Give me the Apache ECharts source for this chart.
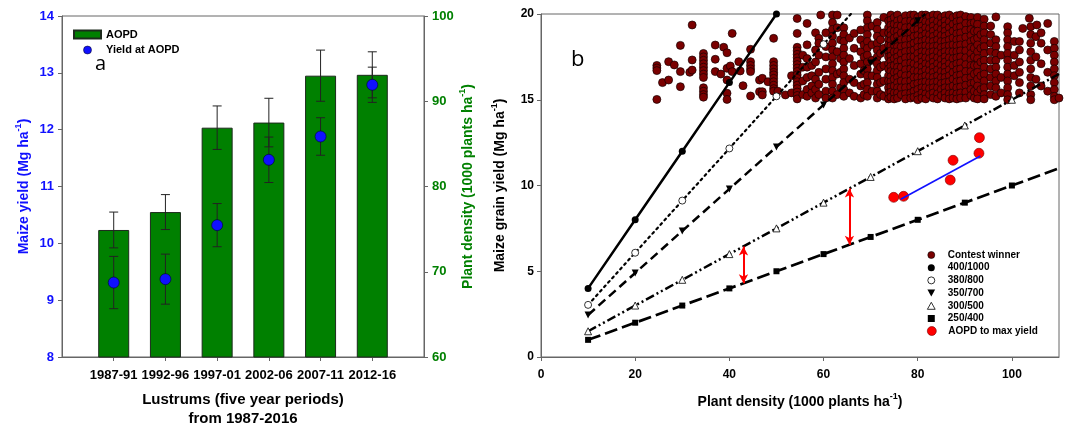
<!DOCTYPE html>
<html><head><meta charset="utf-8">
<script src="https://cdn.jsdelivr.net/npm/echarts@6/dist/echarts.min.js"></script>
<style>html,body{margin:0;padding:0;background:#fff}#c{width:1068px;height:424px}</style>
</head><body><div id="c"></div>
<script>
// ---------- Panel a data ----------
const lustrums = ['1987-91','1992-96','1997-01','2002-06','2007-11','2012-16'];
const aopd = [74.9, 77.0, 86.9, 87.5, 93.0, 93.1];          // plant density (1000 plants/ha)
const aopdSd = [2.1, 2.05, 2.55, 2.85, 3.0, 2.7];
const yieldAtAopd = [9.31, 9.37, 10.32, 11.47, 11.88, 12.79]; // Mg/ha
const yieldSd = [0.46, 0.44, 0.38, 0.40, 0.33, 0.31];
const yieldTicks = [8, 14, 1];
const densityTicks = [60, 100, 10];

// ---------- Panel b data ----------
const line400 = [[10,4],[20,8],[30,12],[40,16],[50,20]];
const line380 = [[10,3.04],[20,6.08],[30,9.12],[40,12.16],[50,15.2],[60,18.24]];
const line380End = [65.8,20];
const line350 = [[10,2.45],[20,4.9],[30,7.35],[40,9.8],[50,12.25],[60,14.7],[70,17.15],[80,19.6]];
const line350End = [81.6,20];
const line300 = [[10,1.5],[20,3],[30,4.5],[40,6],[50,7.5],[60,9],[70,10.5],[80,12],[90,13.5],[100,15]];
const line300End = [110,16.5];
const line250 = [[10,1],[20,2],[30,3],[40,4],[50,5],[60,6],[70,7],[80,8],[90,9],[100,10]];
const line250End = [110,11];
const aopdFit = [[76.4,9.2],[93.3,11.72]];
const gapArrows = [[43,6.45,4.3],[65.5,9.83,6.55]];
// contest winners: [plant density, [yields...]]
const contestWinner = [
[24.6,[17.0,16.85,16.7,15.02]],[25.8,[16.0]],[27.1,[17.22,16.15]],[28.3,[17.03]],
[29.6,[18.17,16.64,15.76]],[31.6,[16.6]],[32.1,[19.36,17.32,16.73]],
[34.5,[17.7,17.5,17.3,17.1,16.9,16.7,16.5,16.3,15.7,15.5,15.3,15.15]],
[37.0,[18.19,17.36,16.64]],[38.2,[16.5]],[38.8,[18.06]],[39.5,[17.74,16.83,16.15,15.38,15.02]],
[40.2,[16.97]],[40.6,[18.87,16.64]],[42.0,[17.22]],[42.3,[16.68]],[42.9,[15.82]],
[44.5,[17.94,17.22,17.0,16.8,16.64,15.22]],[46.4,[16.15,15.47]],[47.0,[16.25,15.47,15.28]],
[48.2,[16.05]],[49.4,[18.58,17.22,17.0,16.8,16.6,16.45,16.25,16.05,15.85,15.65,15.5]],
[50.3,[15.5]],[51.9,[15.28]],[53.2,[16.4,15.4]],
[54.4,[19.74,18.87,18.06,17.85,17.65,17.45,17.25,17.05,16.85,16.65,16.45,16.25,16.05,15.85,15.65,15.45,15.25,15.05]],
[55.6,[17.6,16.9,16.1,15.3]],
[56.5,[19.45,18.2,17.4,16.9,16.3,15.6,15.2]],[57.5,[17.0,16.4,15.8,15.4]],
[58.3,[18.9,17.9,17.2,16.2,15.6,15.1]],
[59.0,[18.58,18.3,17.6,16.6,15.9,15.3]],[59.4,[19.94]],[60.5,[18.9,18.1,17.5,16.8,16.2,15.5,15.1]],
[61.9,[19.94,19.5,19.1,18.7,18.3,17.9,17.5,17.1,16.7,16.3,15.9,15.5,15.1]],
[62.9,[19.94,19.2,17.8,16.5,15.3]],
[63.6,[18.5,17.4,16.6,15.7]],
[64.3,[19.2,18.8,18.4,18.0,17.6,17.2,16.8,16.4,16.0,15.6,15.2]],
[65.5,[18.6,17.4,16.2,15.4]],[66.5,[18.87,18.0,17.0,16.0,15.2]],
[67.9,[19.07,18.5,17.8,17.1,16.5,15.8,15.1]],
[68.6,[18.2,17.5,16.7,15.9,15.3]],
[69.3,[19.94,19.6,19.2,18.8,18.4,18.0,17.6,17.2,16.8,16.4,16.0,15.6,15.2]],
[70.3,[19.3,18.2,17.3,16.4,15.5]],
[71.4,[19.5,19.1,18.7,18.3,17.9,17.5,17.1,16.7,16.3,15.9,15.5,15.1]],
[72.1,[18.5,17.7,16.9,16.0,15.3]],
[72.8,[19.8,18.9,18.0,17.0,16.1,15.2]],
[73.8,[19.6,19.2,18.9,18.5,18.2,17.8,17.5,17.1,16.8,16.4,16.1,15.7,15.4,15.05]],
[74.3,[19.94,19.65,19.35,19.05,18.75,18.45,18.15,17.85,17.55,17.25,16.95,16.65,16.35,16.05,15.75,15.45,15.15]],
[75.0,[19.8,19.4,19.0,18.6,18.2,17.8,17.4,17.0,16.6,16.2,15.8,15.4,15.05]],
[75.7,[19.94,19.6,19.3,19.0,18.7,18.4,18.1,17.8,17.5,17.2,16.9,16.6,16.3,16.0,15.7,15.4,15.1]],
[76.5,[19.7,19.3,18.9,18.5,18.1,17.7,17.3,16.9,16.5,16.1,15.7,15.3]],
[77.4,[19.9,19.55,19.2,18.85,18.5,18.15,17.8,17.45,17.1,16.75,16.4,16.05,15.7,15.35,15.05]],
[78.5,[19.94,19.6,19.25,18.9,18.55,18.2,17.85,17.5,17.15,16.8,16.45,16.1,15.75,15.4,15.1]],
[79.2,[19.94,19.5,19.1,18.7,18.3,17.9,17.5,17.1,16.7,16.3,15.9,15.5,15.15]],
[80.0,[19.8,19.45,19.1,18.75,18.4,18.05,17.7,17.35,17.0,16.65,16.3,15.95,15.6,15.25,15.0]],
[80.9,[19.94,19.6,19.3,19.0,18.7,18.4,18.1,17.8,17.5,17.2,16.9,16.6,16.3,16.0,15.7,15.4,15.1]],
[81.7,[19.94,19.55,19.2,18.85,18.5,18.15,17.8,17.45,17.1,16.75,16.4,16.05,15.7,15.35,15.05]],
[82.5,[19.85,19.5,19.15,18.8,18.45,18.1,17.75,17.4,17.05,16.7,16.35,16.0,15.65,15.3]],
[83.3,[19.94,19.6,19.3,19.0,18.7,18.4,18.1,17.8,17.5,17.2,16.9,16.6,16.3,16.0,15.7,15.4,15.1]],
[84.2,[19.94,19.55,19.2,18.85,18.5,18.15,17.8,17.45,17.1,16.75,16.4,16.05,15.7,15.35,15.05]],
[85.0,[19.8,19.45,19.1,18.75,18.4,18.05,17.7,17.35,17.0,16.65,16.3,15.95,15.6,15.25]],
[85.8,[19.9,19.6,19.3,19.0,18.7,18.4,18.1,17.8,17.5,17.2,16.9,16.6,16.3,16.0,15.7,15.4,15.1]],
[86.7,[19.94,19.55,19.2,18.85,18.5,18.15,17.8,17.45,17.1,16.75,16.4,16.05,15.7,15.35,15.05]],
[87.5,[19.8,19.4,19.0,18.6,18.2,17.8,17.4,17.0,16.6,16.2,15.8,15.4,15.1]],
[88.3,[19.9,19.55,19.2,18.85,18.5,18.15,17.8,17.45,17.1,16.75,16.4,16.05,15.7,15.35,15.05]],
[89.1,[19.94,19.6,19.25,18.9,18.55,18.2,17.85,17.5,17.15,16.8,16.45,16.1,15.75,15.4,15.1]],
[90.2,[19.85,19.45,19.05,18.65,18.25,17.85,17.45,17.05,16.65,16.25,15.85,15.45,15.1]],
[91.3,[19.8,19.45,19.1,18.75,18.4,18.05,17.7,17.35,17.0,16.65,16.3,15.95,15.6,15.25]],
[92.0,[19.5,19.0,18.5,18.0,17.5,17.0,16.5,16.0,15.5,15.1]],
[92.7,[19.8,19.4,19.0,18.6,18.2,17.8,17.4,17.0,16.6,16.2,15.8,15.4,15.05]],
[93.4,[18.8,18.0,17.2,16.4,15.6]],
[94.1,[19.7,19.3,18.9,18.5,18.1,17.7,17.3,16.9,16.5,16.1,15.7,15.3,15.05]],
[95.5,[19.3,18.8,18.3,17.8,17.3,16.8,16.3,15.8,15.3]],
[96.6,[19.83,18.5,18.1,17.7,17.3,16.9,16.5,16.1,15.7,15.2]],
[97.7,[17.6,16.3,15.4]],
[99.1,[19.26,18.9,18.5,18.1,17.7,17.3,16.9,16.5,16.1,15.7,15.3,15.0]],
[100.5,[18.4,17.6,17.0,16.4]],[101.6,[18.4,17.9,17.2,16.6,16.0,15.4]],
[102.3,[19.16]],[103.7,[19.75]],
[104.0,[19.26,18.8,18.3,17.8,17.3,16.8,16.3,15.8,15.3,15.0]],
[105.1,[18.68,17.5,16.2]],[105.3,[19.36]],[106.2,[18.9,18.3,17.1,15.8]],
[107.6,[19.45,17.9,16.6,15.5]],
[109.0,[18.4,18.0,17.6,17.2,16.8,16.4,16.0,15.6,15.2,15.0]],
[110.0,[15.1]]
];

// ---------- build ----------
const FF = '"Liberation Sans", Arial, sans-serif';
const BLUE = '#1010ff', GREEN = '#008000', AX = '#666';
const paddedCats = [''].concat(lustrums, ['']);
const catIdx = i => i + 1;

function errRender(params, api) {
  const x = api.value(0), v = api.value(1), e = api.value(2);
  const t = api.coord([x, v + e]), b = api.coord([x, v - e]);
  const hw = 4.5, st = {stroke: '#222', lineWidth: 1};
  return {type: 'group', children: [
    {type: 'line', shape: {x1: t[0], y1: t[1], x2: b[0], y2: b[1]}, style: st},
    {type: 'line', shape: {x1: t[0]-hw, y1: t[1], x2: t[0]+hw, y2: t[1]}, style: st},
    {type: 'line', shape: {x1: b[0]-hw, y1: b[1], x2: b[0]+hw, y2: b[1]}, style: st}
  ]};
}
function sup(size, color) {
  return {
    t: {fontSize: size, fontWeight: 'bold', color: color, fontFamily: FF, lineHeight: 20},
    s: {fontSize: Math.round(size*0.65), fontWeight: 'bold', color: color, fontFamily: FF, lineHeight: 12, verticalAlign: 'top'}
  };
}
const contestData = [];
contestWinner.forEach(c => c[1].forEach(y => contestData.push([c[0], y])));
const withEnd = (pts, end) => pts.concat([{value: end, symbol: 'none'}]);
const tickStyle = {show: true, inside: false, length: 4, lineStyle: {color: AX}};
const axLine = {show: true, lineStyle: {color: AX, width: 1}};
const legText = {fontSize: 10, fontWeight: 'bold', color: '#000', fontFamily: FF};
const SQ = 'path://M0,0 L10,0 L10,10 L0,10 Z';
const TRI_UP = 'path://M5,0 L10,9 L0,9 Z';
const TRI_DN = 'path://M0,0 L10,0 L5,9 Z';

const option = {
  animation: false,
  backgroundColor: '#fff',
  grid: [
    {left: 62, top: 16, width: 362, height: 341, show: true, borderColor: AX, borderWidth: 1, containLabel: false, outerBoundsMode: 'none'},
    {left: 541, top: 14, width: 518, height: 343, show: true, borderColor: AX, borderWidth: 1, containLabel: false, outerBoundsMode: 'none'}
  ],
  xAxis: [
    {type: 'category', gridIndex: 0, data: paddedCats, boundaryGap: false,
     axisLine: axLine, axisTick: Object.assign({}, tickStyle, {interval: (i) => i > 0 && i < 7}),
     axisLabel: {interval: 0, margin: 12, color: '#000', fontWeight: 'bold', fontSize: 13, fontFamily: FF},
     splitLine: {show: false},
     name: 'Lustrums (five year periods)\nfrom 1987-2016', nameLocation: 'middle', nameGap: 33,
     nameTextStyle: {fontSize: 15, fontWeight: 'bold', color: '#000', fontFamily: FF, lineHeight: 19}},
    {type: 'value', gridIndex: 1, min: 0, max: 110, interval: 20,
     axisLine: axLine, axisTick: tickStyle, splitLine: {show: false},
     axisLabel: {margin: 12, color: '#000', fontWeight: 'bold', fontSize: 12, fontFamily: FF,
                 showMaxLabel: false},
     name: '{t|Plant density (1000 plants ha}{s|-1}{t|)}', nameLocation: 'middle', nameGap: 35,
     nameTextStyle: {rich: sup(14, '#000')}}
  ],
  yAxis: [
    {type: 'value', gridIndex: 0, min: yieldTicks[0], max: yieldTicks[1], interval: yieldTicks[2], position: 'left',
     axisLine: axLine, axisTick: tickStyle, splitLine: {show: false},
     axisLabel: {margin: 8, color: BLUE, fontWeight: 'bold', fontSize: 13, fontFamily: FF},
     name: '{t|Maize yield (Mg ha}{s|-1}{t|)}', nameLocation: 'middle', nameGap: 28, nameRotate: 90,
     nameTextStyle: {rich: sup(14, BLUE)}},
    {type: 'value', gridIndex: 0, min: densityTicks[0], max: densityTicks[1], interval: densityTicks[2], position: 'right',
     axisLine: axLine, axisTick: tickStyle, splitLine: {show: false},
     axisLabel: {margin: 8, color: GREEN, fontWeight: 'bold', fontSize: 13, fontFamily: FF},
     name: '{t|Plant density (1000 plants ha}{s|-1}{t|)}', nameLocation: 'middle', nameGap: 34, nameRotate: 90,
     nameTextStyle: {rich: sup(14, GREEN)}},
    {type: 'value', gridIndex: 1, min: 0, max: 20, interval: 5,
     axisLine: axLine, axisTick: tickStyle, splitLine: {show: false},
     axisLabel: {margin: 7, color: '#000', fontWeight: 'bold', fontSize: 12, fontFamily: FF},
     name: '{t|Maize grain yield (Mg ha}{s|-1}{t|)}', nameLocation: 'middle', nameGap: 31, nameRotate: 90,
     nameTextStyle: {rich: sup(14, '#000')}}
  ],
  legend: [
    {left: 73, top: 29, padding: 0, orient: 'vertical', itemWidth: 27, itemHeight: 8, itemGap: 4.5, selectedMode: false,
     textStyle: {fontSize: 11, fontWeight: 'bold', color: '#000', fontFamily: FF},
     data: [{name: 'AOPD', icon: 'rect'}, {name: 'Yield at AOPD', icon: 'circle', itemStyle: {color: BLUE, borderColor: '#001', borderWidth: 0.5}}]},
    {left: 927, top: 250, padding: 0, orient: 'vertical', itemWidth: 23, itemHeight: 7, itemGap: 2.7, selectedMode: false,
     textStyle: legText,
     data: [
       {name: 'Contest winner', icon: 'circle', itemStyle: {color: '#7a0000', borderColor: '#000', borderWidth: 0.6}},
       {name: '400/1000', icon: 'circle', itemStyle: {color: '#000', borderColor: '#000', borderWidth: 0}},
       {name: '380/800', icon: 'circle', itemStyle: {color: '#fff', borderColor: '#000', borderWidth: 0.8}},
       {name: '350/700', icon: TRI_DN, itemStyle: {color: '#000', borderColor: '#000', borderWidth: 0}},
       {name: '300/500', icon: TRI_UP, itemStyle: {color: '#fff', borderColor: '#000', borderWidth: 0.8}},
       {name: '250/400', icon: SQ, itemStyle: {color: '#000', borderColor: '#000', borderWidth: 0}}
     ]},
    {left: 927, top: 326, padding: 0, orient: 'vertical', itemWidth: 23, itemHeight: 9, selectedMode: false,
     textStyle: legText,
     data: [{name: 'AOPD to max yield', icon: 'circle', itemStyle: {color: '#ff0000', borderColor: '#700', borderWidth: 0.6}}]}
  ],
  graphic: [
    {type: 'text', left: 95, top: 54, style: {text: 'a', font: '20px "Open Sans", sans-serif', fill: '#000'}},
    {type: 'text', left: 571, top: 49, style: {text: 'b', font: '22px "Open Sans", sans-serif', fill: '#000'}}
  ],
  series: [
    {name: 'AOPD', type: 'bar', xAxisIndex: 0, yAxisIndex: 1, barWidth: 31,
     itemStyle: {color: GREEN, borderColor: '#1c2a1c', borderWidth: 1},
     data: aopd.map((v, i) => [catIdx(i), v]), z: 2},
    {name: 'aopdErr', type: 'custom', xAxisIndex: 0, yAxisIndex: 1, renderItem: errRender,
     data: aopd.map((v, i) => [catIdx(i), v, aopdSd[i]]), z: 3, silent: true},
    {name: 'yieldErr', type: 'custom', xAxisIndex: 0, yAxisIndex: 0, renderItem: errRender,
     data: yieldAtAopd.map((v, i) => [catIdx(i), v, yieldSd[i]]), z: 4, silent: true},
    {name: 'Yield at AOPD', type: 'scatter', xAxisIndex: 0, yAxisIndex: 0, symbolSize: 11,
     itemStyle: {color: BLUE, borderColor: '#000033', borderWidth: 0.6, opacity: 1},
     data: yieldAtAopd.map((v, i) => [catIdx(i), v]), z: 5},

    {name: 'Contest winner', type: 'scatter', xAxisIndex: 1, yAxisIndex: 2, symbolSize: 8, large: false,
     itemStyle: {color: '#7a0000', borderColor: '#140000', borderWidth: 0.7, opacity: 1},
     data: contestData, z: 1},
    {name: '400/1000', type: 'line', xAxisIndex: 1, yAxisIndex: 2, symbol: 'circle', symbolSize: 7, showAllSymbol: true,
     lineStyle: {color: '#000', width: 2.5, type: 'solid'}, itemStyle: {color: '#000', borderWidth: 0},
     data: line400, z: 3},
    {name: '380/800', type: 'line', xAxisIndex: 1, yAxisIndex: 2, symbol: 'circle', symbolSize: 7, showAllSymbol: true,
     lineStyle: {color: '#000', width: 2.2, type: [2, 4], cap: 'round'}, itemStyle: {color: '#fff', borderColor: '#000', borderWidth: 0.8},
     data: withEnd(line380, line380End), z: 3},
    {name: '350/700', type: 'line', xAxisIndex: 1, yAxisIndex: 2, symbol: 'triangle', symbolRotate: 180, symbolSize: 7, showAllSymbol: true,
     lineStyle: {color: '#000', width: 2.5, type: [9, 5]}, itemStyle: {color: '#000', borderWidth: 0},
     data: withEnd(line350, line350End), z: 3},
    {name: '300/500', type: 'line', xAxisIndex: 1, yAxisIndex: 2, symbol: 'triangle', symbolSize: 7, showAllSymbol: true,
     lineStyle: {color: '#000', width: 2.5, type: [9, 3, 2, 3, 2, 3]}, itemStyle: {color: '#fff', borderColor: '#000', borderWidth: 0.8},
     data: withEnd(line300, line300End), z: 3},
    {name: '250/400', type: 'line', xAxisIndex: 1, yAxisIndex: 2, symbol: 'rect', symbolSize: 6, showAllSymbol: true,
     lineStyle: {color: '#000', width: 2.7, type: [13, 5]}, itemStyle: {color: '#000', borderWidth: 0},
     data: withEnd(line250, line250End), z: 3},
    {name: 'AOPD to max yield', type: 'scatter', xAxisIndex: 1, yAxisIndex: 2, symbolSize: 10,
     itemStyle: {color: '#ff0000', borderColor: '#7a0000', borderWidth: 0.6, opacity: 1},
     data: aopd.map((d, i) => [d, yieldAtAopd[i]]), z: 5},
    {name: 'fit', type: 'line', xAxisIndex: 1, yAxisIndex: 2, symbol: 'none',
     lineStyle: {color: '#1010ff', width: 1.6}, data: aopdFit, z: 6,
     markLine: {silent: true, symbol: ['arrow', 'arrow'], symbolSize: [7, 9], label: {show: false},
       lineStyle: {color: '#ff0000', width: 2, type: 'solid'},
       data: gapArrows.map(a => [{coord: [a[0], a[1]]}, {coord: [a[0], a[2]]}])}}
  ]
};
const chart = echarts.init(document.getElementById('c'), null, {renderer: 'canvas'});
chart.setOption(option);
</script>
</body></html>
